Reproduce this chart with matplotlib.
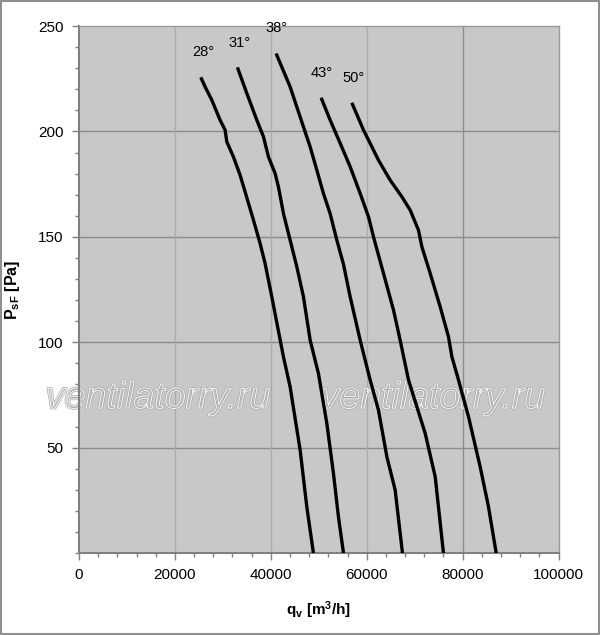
import numpy as np
import matplotlib
matplotlib.use("Agg")
import matplotlib.pyplot as plt
import matplotlib.patheffects as pe
from matplotlib.patches import Rectangle
from matplotlib.ticker import MultipleLocator

plt.rcParams['font.family'] = ['Liberation Sans', 'DejaVu Sans']
plt.rcParams['mathtext.fontset'] = 'custom'
plt.rcParams['mathtext.rm'] = 'Liberation Sans'
plt.rcParams['mathtext.bf'] = 'Liberation Sans:bold'
plt.rcParams['mathtext.it'] = 'Liberation Sans:italic'

# fan curves: flow q [m3/h] vs static pressure P [Pa]
q_28 = [25390, 26290, 27690, 29420, 30460, 30820, 32190, 33590, 34630, 36370, 37760, 38800, 40200,
        42630, 44020, 46110, 47500, 48880]
p_28 = [225.7, 221.2, 214.9, 205.4, 200.7, 195.1, 188, 179.3, 171.4, 158, 146.9, 137.4, 121.6,
        93.1, 78.9, 48.9, 22, 0]

q_31 = [33030, 34990, 37080, 38460, 39500, 40890, 41580, 42630, 44020, 45420, 46800,
        48200, 49930, 51680, 53060, 54100, 55150]
p_31 = [230.4, 218.1, 205.4, 197.5, 188, 180.1, 173.8, 161.1, 148.5, 135.8, 121.6,
        101, 85.2, 61.5, 37.8, 17.2, 0]

q_38 = [41100, 44020, 46800, 48200, 49590, 50970, 52370, 53760, 55150, 56540,
        58630, 60710, 62450, 64200, 65930, 67450]
p_38 = [237, 221.2, 202.2, 192.7, 181.7, 170.6, 161, 148.5, 137, 121.6,
        101, 82.1, 67.8, 45.7, 29.9, 0]

q_43 = [50490, 52370, 54460, 56540, 58630, 60370, 61410, 63490, 65580, 66970, 68710,
        72190, 74280, 76000]
p_43 = [216, 205.4, 194.4, 183.3, 170.6, 159.5, 150, 132.7, 115.3, 101, 82.1,
        56.8, 36.2, 0]

q_50 = [56890, 59320, 62450, 64890, 67330, 69060, 70790, 71500, 73230, 75320, 77050, 77760, 79140,
        81220, 83660, 85390, 87000]
p_50 = [213.6, 200.7, 186.4, 176.9, 169, 162.7, 153.2, 145.3, 132.7, 116.8, 102.6, 93.1, 82.1,
        64.7, 40.9, 22, 0]

curves = [(q_28, p_28), (q_31, p_31), (q_38, p_38), (q_43, p_43), (q_50, p_50)]
angle_labels = ["28°", "31°", "38°", "43°", "50°"]
label_q = [25900, 33400, 41100, 50700, 57200]
label_p = [237.6, 241.9, 249, 227.7, 225.3]

x_ticks = [0, 20000, 40000, 60000, 80000, 100000]
y_ticks = [50, 100, 150, 200, 250]

fig = plt.figure(figsize=(6, 6.35), dpi=100)
ax = fig.add_axes([0.1317, 0.129, 0.7992, 0.830])
ax.set_facecolor('#c8c8c8')
ax.set_xlim(0, 100000)
ax.set_ylim(0, 250)

# grid
for y in y_ticks[:-1]:
    ax.axhline(y, color='#8c8c8c', lw=1, zorder=1)
for x in x_ticks[1:-1]:
    c = '#8c8c8c' if x == 80000 else '#ababab'
    ax.axvline(x, color=c, lw=1, zorder=1)

for (q, p) in curves:
    ax.plot(q, p, color='black', lw=2.4, solid_capstyle='butt', solid_joinstyle='round', zorder=3)

for txt, xq, yp in zip(angle_labels, label_q, label_p):
    ax.text(xq, yp, txt, fontsize=10.5, ha='center', va='center', zorder=4, clip_on=False)

# watermark
for xq in [16500, 73800]:
    ax.text(xq, 73.5, "ventilatorry.ru", fontsize=27, style='italic', ha='center', va='center',
            color='none', zorder=2, clip_on=False,
            path_effects=[pe.Stroke(linewidth=1.8, foreground='#a8a8a8'),
                          pe.Stroke(linewidth=0.8, foreground='#f4f4f4')])

ax.set_xticks(x_ticks)
ax.set_xticklabels([str(v) for v in x_ticks])
ax.set_yticks(y_ticks)
ax.set_yticklabels([str(v) for v in y_ticks])
ax.xaxis.set_minor_locator(MultipleLocator(4000))
ax.yaxis.set_minor_locator(MultipleLocator(10))
ax.tick_params(which='both', direction='out', color='#808080', labelsize=11, pad=6)
ax.tick_params(which='major', length=5, width=1)
ax.tick_params(which='minor', length=3, width=1)

for s in ['top', 'right']:
    ax.spines[s].set_color('#999999')
    ax.spines[s].set_linewidth(1)
for s in ['left', 'bottom']:
    ax.spines[s].set_color('#808080')
    ax.spines[s].set_linewidth(1.5)

ax.set_xlabel(r'$\mathbf{q_v\ [m^3/h]}$', fontsize=11, labelpad=12)
ax.set_ylabel(r'$\mathbf{P_{sF}\ [Pa]}$', fontsize=11.5, labelpad=12)

# outer frame
fig.patches.append(Rectangle((0.002, 0.002), 0.996, 0.996, transform=fig.transFigure,
                             fill=False, edgecolor='#909090', lw=1.5))

fig.savefig('out.png', dpi=100)
